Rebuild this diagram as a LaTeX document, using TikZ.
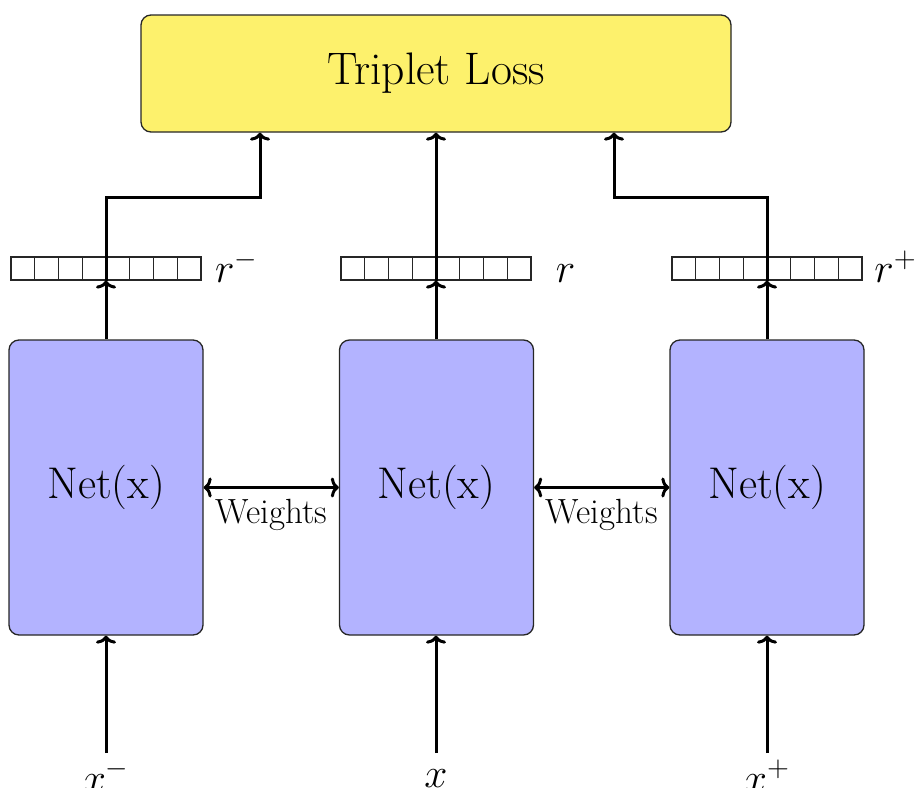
\documentclass[tikz,border=0pt]{standalone}
\usepackage{fontspec}
\usetikzlibrary{arrows.meta,calc}
\definecolor{lossyellow}{RGB}{253,241,108}
\definecolor{netblue}{RGB}{179,179,255}
\tikzset{
 lossbox/.style={draw=black!85,line width=0.65pt,fill=lossyellow,rounded corners=5pt,minimum width=295pt,minimum height=58.5pt,inner sep=0pt,font=\fontsize{22.8}{27}\selectfont},
 netbox/.style={draw=black!85,line width=0.65pt,fill=netblue,rounded corners=5pt,minimum width=97pt,minimum height=147.5pt,inner sep=0pt,font=\fontsize{22.2}{27}\selectfont},
 vecbox/.style={draw=black!85,line width=0.6pt,minimum width=95pt,minimum height=11.5pt,inner sep=0pt,
   path picture={\foreach \i in {1,...,7}{\draw[line width=0.6pt,black!85] ($(path picture bounding box.south west)!\i/8!(path picture bounding box.south east)$) -- ($(path picture bounding box.north west)!\i/8!(path picture bounding box.north east)$);}}},
 mathlbl/.style={font=\fontsize{22}{26}\selectfont,inner sep=0pt,anchor=base},
 arr/.style={line width=1.5pt,-{To[length=4pt,width=10pt]}},
 dbl/.style={line width=1.5pt,{To[length=4pt,width=10pt]}-{To[length=4pt,width=10pt]}},
 wlbl/.style={font=\fontsize{17.5}{21}\selectfont,below=5pt,inner sep=0pt},
}
\begin{document}
\begin{tikzpicture}[x=0.5pt,y=-0.5pt]
\useasboundingbox (0,0) rectangle (917,788);
\node[lossbox] (loss) at (436,73.5) {Triplet Loss};
\node[netbox] (nL) at (106,487.5) {Net(x)};
\node[netbox] (nM) at (436.5,487.5) {Net(x)};
\node[netbox] (nR) at (767,487.5) {Net(x)};
\node[vecbox] (vL) at (106,268.5) {};
\node[vecbox] (vM) at (436,268.5) {};
\node[vecbox] (vR) at (767,268.5) {};
\node[mathlbl] (rL) at ($(vL.south east)+(35,2)$) {$r^-$};
\node[mathlbl] (rM) at ($(vM.south east)+(34,2)$) {$r$};
\node[mathlbl] (rR) at ($(vR.south east)+(33,2)$) {$r^+$};
\node[mathlbl] (xL) at (106,792) {$x^-$};
\node[mathlbl] (xM) at (436,787) {$x$};
\node[mathlbl] (xR) at (767,792) {$x^+$};
\coordinate (iL) at (106,753);
\coordinate (iM) at (436,753);
\coordinate (iR) at (767,753);
\coordinate (jL) at (260,197);
\coordinate (jR) at (614,197);
% nets to vectors
\draw[arr] (nL.north) -- (vL.south);
\draw[arr] (nM.north -| vM.south) -- (vM.south);
\draw[arr] (nR.north) -- (vR.south);
% vectors to loss
\draw[arr] (vL.south) |- (jL) -- (jL |- loss.south);
\draw[arr] (vM.south) -- (vM.south |- loss.south);
\draw[arr] (vR.south) |- (jR) -- (jR |- loss.south);
% weights
\draw[dbl] (nL.east) -- node[wlbl]{Weights} (nM.west);
\draw[dbl] (nM.east) -- node[wlbl]{Weights} (nR.west);
% inputs
\draw[arr] (iL) -- (nL.south);
\draw[arr] (iM) -- (iM |- nM.south);
\draw[arr] (iR) -- (nR.south);
\end{tikzpicture}
\end{document}
